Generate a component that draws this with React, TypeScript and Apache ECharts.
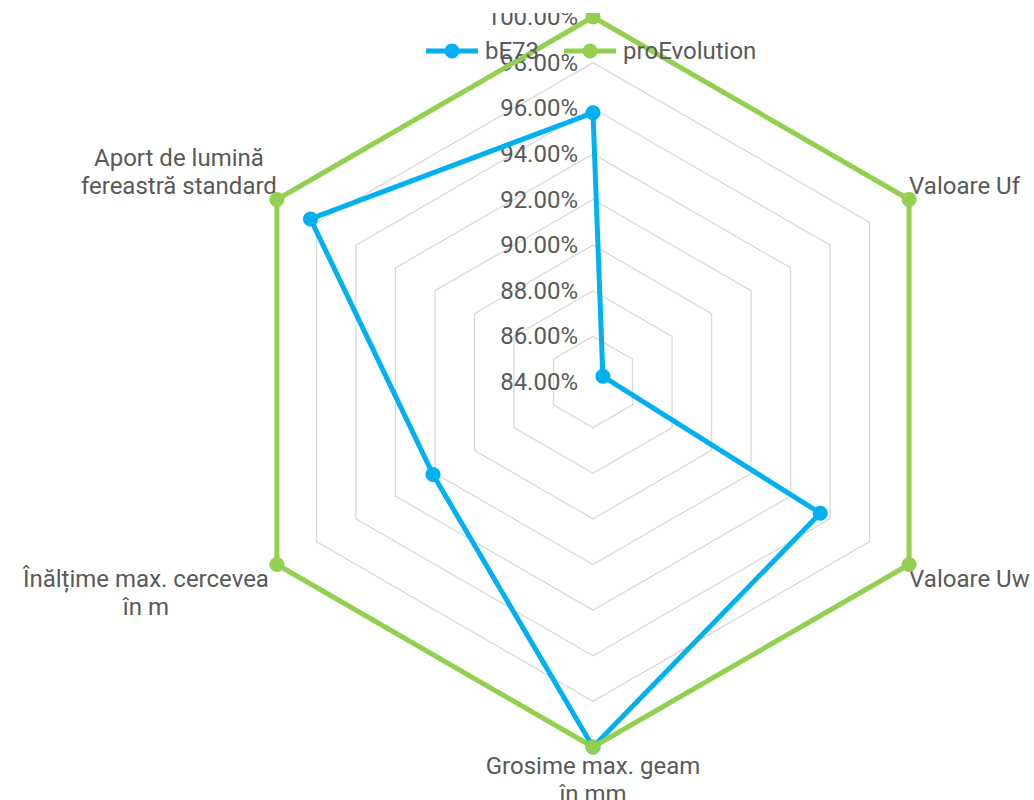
import React, { useEffect, useRef } from "react";
import * as echarts from "echarts";

const indicatorNames = [
  "",
  "Aport de lumină\nfereastră standard",
  "Înălțime max. cercevea\nîn m",
  "Grosime max. geam\nîn mm",
  "Valoare Uw",
  "Valoare Uf",
];
const axisMin = 84;
const axisMax = 100;
const seriesNames = ["bE73", "proEvolution"];
const bE73Values = [95.8, 98.3, 92.1, 100, 95.5, 84.5];
const proEvolutionValues = [100, 100, 100, 100, 100, 100];
const seriesColors = ["#00B0F0", "#92D050"];

const legendIcon =
  "path://M0,5h52v5h-52z M18.5,7.5a7.5,7.5 0 1,1 15,0a7.5,7.5 0 1,1 -15,0z";

export default function App() {
  const ref = useRef<HTMLDivElement>(null);
  useEffect(() => {
    if (!ref.current) return;
    const chart = echarts.init(ref.current, null, { renderer: "svg" });
    const textColor = "#595959";
    const font = "Roboto";
    const fs = 24;
    const lh = 28;
    // index in indicatorNames -> vertical shift in lines (negative = up)
    const shiftLines = (i: number) => {
      if (i === 1) return -2;
      if (i === 2) return 2;
      if (i === 4) return 1;
      if (i === 5) return -1;
      return 0;
    };
    const baseRich = {
      color: textColor,
      fontSize: fs,
      fontFamily: font,
      lineHeight: lh,
      align: "center",
    };
    const option: any = {
      animation: false,
      backgroundColor: "#ffffff",
      legend: {
        top: 34,
        left: 421,
        itemWidth: 52,
        itemHeight: 15,
        itemGap: 25,
        icon: legendIcon,
        textStyle: { color: textColor, fontSize: fs, fontFamily: font, padding: [0, 0, 0, 2] },
        data: seriesNames,
      },
      graphic: [
        {
          type: "rect",
          left: 0,
          top: 0,
          z: 1000,
          shape: { width: 1034, height: 13 },
          style: { fill: "#ffffff" },
        },
      ],
      radar: {
        center: [593, 382],
        radius: 365,
        shape: "polygon",
        splitNumber: 8,
        startAngle: 90,
        axisName: {
          color: textColor,
          fontSize: fs,
          fontFamily: font,
          lineHeight: lh,
          formatter: (name: string) => {
            if (!name) return "";
            const idx = indicatorNames.indexOf(name);
            const s = shiftLines(idx);
            const key = idx === 2 ? "d" : "c";
            const lines = name.split("\n").map((l) => "{" + key + "|" + l + "}");
            const pad: string[] = [];
            for (let k = 0; k < Math.abs(s); k++) pad.push("{c| }");
            let all = s < 0 ? lines.concat(pad) : pad.concat(lines);
            if (idx === 3) all = ["{s| }"].concat(all);
            return all.join("\n");
          },
          rich: {
            c: baseRich,
            d: { ...baseRich, padding: [0, 8, 0, 0] },
            s: { fontSize: 4, lineHeight: 5 },
          },
        },
        nameGap: 0,
        axisLine: { show: false },
        axisTick: { show: false },
        axisLabel: { show: false },
        splitLine: { lineStyle: { color: "#D9D9D9", width: 1.3 } },
        splitArea: { show: false },
        indicator: indicatorNames.map((n, i) => {
          const ind: any = { name: n, min: axisMin, max: axisMax };
          if (i === 0) {
            ind.axisLabel = {
              show: true,
              color: textColor,
              fontSize: fs,
              fontFamily: font,
              margin: 15,
              formatter: (v: number) => v.toFixed(2) + "%",
            };
          }
          return ind;
        }),
      },
      series: [
        {
          type: "radar",
          symbol: "circle",
          symbolSize: 15,
          data: [
            {
              name: seriesNames[0],
              value: bE73Values,
              lineStyle: { color: seriesColors[0], width: 5 },
              itemStyle: { color: seriesColors[0] },
            },
            {
              name: seriesNames[1],
              value: proEvolutionValues,
              lineStyle: { color: seriesColors[1], width: 5 },
              itemStyle: { color: seriesColors[1] },
            },
          ],
        },
      ],
    };
    chart.setOption(option);
    return () => chart.dispose();
  }, []);
  return (
    <div
      ref={ref}
      style={{ position: "absolute", left: 0, top: 0, width: 1034, height: 800 }}
    />
  );
}
